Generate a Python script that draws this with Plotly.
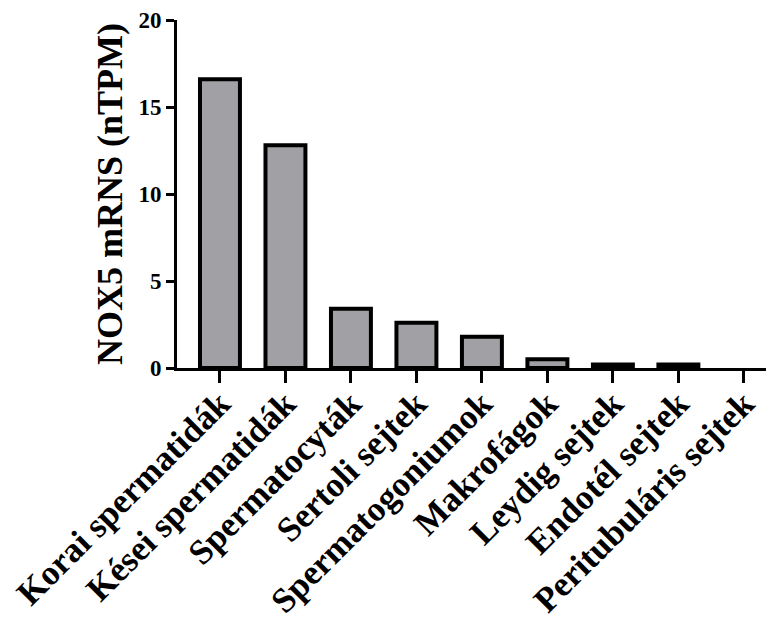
import plotly.graph_objects as go

categories = ["Korai spermatidák", "Kései spermatidák", "Spermatocyták", "Sertoli sejtek",
              "Spermatogoniumok", "Makrofágok", "Leydig sejtek", "Endotél sejtek",
              "Peritubuláris sejtek"]
values = [16.6, 12.8, 3.4, 2.6, 1.8, 0.5, 0.2, 0.2, 0.0]
y_ticks = [0, 5, 10, 15, 20]

FONT = "Times New Roman"

fig = go.Figure(go.Bar(
    x=categories, y=values,
    marker=dict(color="#a1a1a5",
                line=dict(color="black", width=[4 if v > 0 else 0 for v in values])),
    width=0.61,
))

fig.update_layout(
    width=766, height=611,
    margin=dict(l=169, r=0, t=12, b=251, autoexpand=False),
    plot_bgcolor="white", paper_bgcolor="white",
    showlegend=False,
    font=dict(family=FONT, color="black", weight="bold"),
)

fig.update_xaxes(
    range=[-0.656, 8.46],
    automargin=False,
    showline=True, linecolor="black", linewidth=3,
    ticks="outside", ticklen=12, tickwidth=3, tickcolor="black",
    tickangle=-45,
    ticklabeloverflow="allow",
    ticklabelstandoff=-14,
    tickfont=dict(family=FONT, size=35, color="black", weight="bold"),
    showgrid=False, zeroline=False,
)

fig.update_yaxes(
    range=[0, 20],
    automargin=False,
    tickvals=y_ticks,
    ticklabeloverflow="allow",
    showline=True, linecolor="black", linewidth=3,
    ticks="outside", ticklen=8, tickwidth=3, tickcolor="black",
    tickfont=dict(family=FONT, size=23, color="black", weight="bold"),
    title=dict(text="NOX5 mRNS (nTPM)", font=dict(family=FONT, size=36, color="black", weight="bold"), standoff=5),
    showgrid=False, zeroline=False,
)

fig.write_html("out.html")
